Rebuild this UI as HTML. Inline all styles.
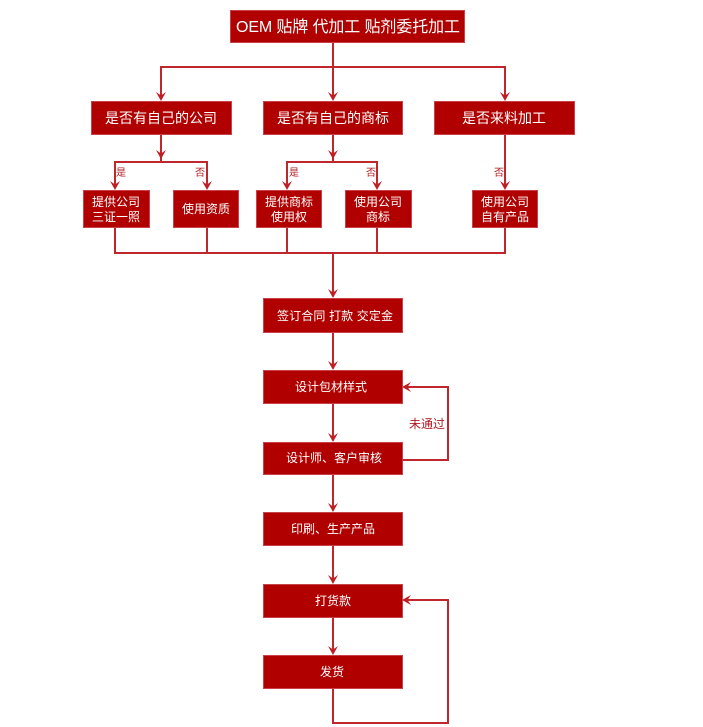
<!DOCTYPE html>
<html><head><meta charset="utf-8"><style>
html,body{margin:0;padding:0;background:#fff;}
svg{display:block;}
text{font-family:"Liberation Sans","Noto Sans CJK SC",sans-serif;}
</style></head><body>
<svg width="703" height="727" viewBox="0 0 703 727" xmlns="http://www.w3.org/2000/svg">
<defs>
<path id="ah" d="M0 0 L-5 -9 L0 -5.5 L5 -9 Z" fill="#bf1e24"/>
</defs>
<g stroke="#c0272d" stroke-width="2" fill="none">
<!-- top -->
<line x1="333" y1="42" x2="333" y2="67"/>
<line x1="160" y1="67" x2="506" y2="67"/>
<line x1="161" y1="67" x2="161" y2="99"/>
<line x1="333" y1="67" x2="333" y2="99"/>
<line x1="505" y1="67" x2="505" y2="99"/>
<!-- group1 -->
<line x1="161" y1="134" x2="161" y2="162"/>
<line x1="114" y1="162" x2="208" y2="162"/>
<line x1="115" y1="162" x2="115" y2="188"/>
<line x1="207" y1="162" x2="207" y2="188"/>
<!-- group2 -->
<line x1="333" y1="134" x2="333" y2="162"/>
<line x1="286" y1="162" x2="378" y2="162"/>
<line x1="287" y1="162" x2="287" y2="188"/>
<line x1="377" y1="162" x2="377" y2="188"/>
<!-- group3 -->
<line x1="505" y1="134" x2="505" y2="188"/>
<!-- bottom collector -->
<line x1="115" y1="227" x2="115" y2="253"/>
<line x1="207" y1="227" x2="207" y2="253"/>
<line x1="287" y1="227" x2="287" y2="253"/>
<line x1="377" y1="227" x2="377" y2="253"/>
<line x1="505" y1="227" x2="505" y2="253"/>
<line x1="114" y1="253" x2="506" y2="253"/>
<line x1="333" y1="253" x2="333" y2="296"/>
<!-- flow -->
<line x1="333" y1="332" x2="333" y2="368"/>
<line x1="333" y1="403" x2="333" y2="440"/>
<line x1="333" y1="474" x2="333" y2="510"/>
<line x1="333" y1="545" x2="333" y2="582"/>
<line x1="333" y1="617" x2="333" y2="653"/>
<!-- loop1 -->
<polyline points="402,460 448,460 448,387 404,387"/>
<!-- loop2 -->
<polyline points="333,688 333,723 448,723 448,600 404,600"/>
</g>
<!-- arrowheads -->
<use href="#ah" x="161" y="101"/>
<use href="#ah" x="333" y="101"/>
<use href="#ah" x="505" y="101"/>
<use href="#ah" x="161" y="159"/>
<use href="#ah" x="333" y="159"/>
<use href="#ah" x="115" y="190"/>
<use href="#ah" x="207" y="190"/>
<use href="#ah" x="287" y="190"/>
<use href="#ah" x="377" y="190"/>
<use href="#ah" x="505" y="190"/>
<use href="#ah" x="333" y="298"/>
<use href="#ah" x="333" y="370"/>
<use href="#ah" x="333" y="442"/>
<use href="#ah" x="333" y="512"/>
<use href="#ah" x="333" y="584"/>
<use href="#ah" x="333" y="655"/>
<use href="#ah" transform="translate(402,387) rotate(90)"/>
<use href="#ah" transform="translate(402,600) rotate(90)"/>

<!-- boxes -->
<g fill="#b00000" stroke="#c9414a" stroke-width="1">
<rect x="230.5" y="10.5" width="234" height="32"/>
<rect x="91.5" y="101.5" width="140" height="33"/>
<rect x="263.5" y="101.5" width="139" height="33"/>
<rect x="434.5" y="101.5" width="140" height="33"/>
<rect x="83.5" y="190.5" width="66" height="37"/>
<rect x="173.5" y="190.5" width="65" height="37"/>
<rect x="256.5" y="190.5" width="65" height="37"/>
<rect x="345.5" y="190.5" width="66" height="37"/>
<rect x="472.5" y="190.5" width="65" height="37"/>
<rect x="263.5" y="298.5" width="139" height="34"/>
<rect x="263.5" y="370.5" width="139" height="33"/>
<rect x="263.5" y="442.5" width="139" height="32"/>
<rect x="263.5" y="512.5" width="139" height="33"/>
<rect x="263.5" y="584.5" width="139" height="33"/>
<rect x="263.5" y="655.5" width="139" height="33"/>
</g>

<g fill="#fff" text-anchor="middle">
<text x="348" y="32" font-size="16" textLength="224">OEM 贴牌 代加工 贴剂委托加工</text>
<text x="161" y="123" font-size="14">是否有自己的公司</text>
<text x="333" y="123" font-size="14">是否有自己的商标</text>
<text x="504" y="123" font-size="14">是否来料加工</text>
<g font-size="12">
<text x="116" y="206">提供公司</text>
<text x="116" y="221">三证一照</text>
<text x="206" y="213">使用资质</text>
<text x="289" y="206">提供商标</text>
<text x="289" y="221">使用权</text>
<text x="378" y="206">使用公司</text>
<text x="378" y="221">商标</text>
<text x="505" y="206">使用公司</text>
<text x="505" y="221">自有产品</text>
<text x="335" y="320" textLength="116">签订合同 打款 交定金</text>
<text x="331" y="391">设计包材样式</text>
<text x="334" y="462">设计师、客户审核</text>
<text x="333" y="533">印刷、生产产品</text>
<text x="333" y="605">打货款</text>
<text x="332" y="676">发货</text>
</g>
</g>

<g fill="#b01820" text-anchor="middle" font-size="10">
<text x="121" y="176">是</text>
<text x="200" y="176">否</text>
<text x="294" y="176">是</text>
<text x="371" y="176">否</text>
<text x="499" y="176">否</text>
</g>
<text x="427" y="428" fill="#b01820" font-size="12" text-anchor="middle">未通过</text>
</svg>
</body></html>
